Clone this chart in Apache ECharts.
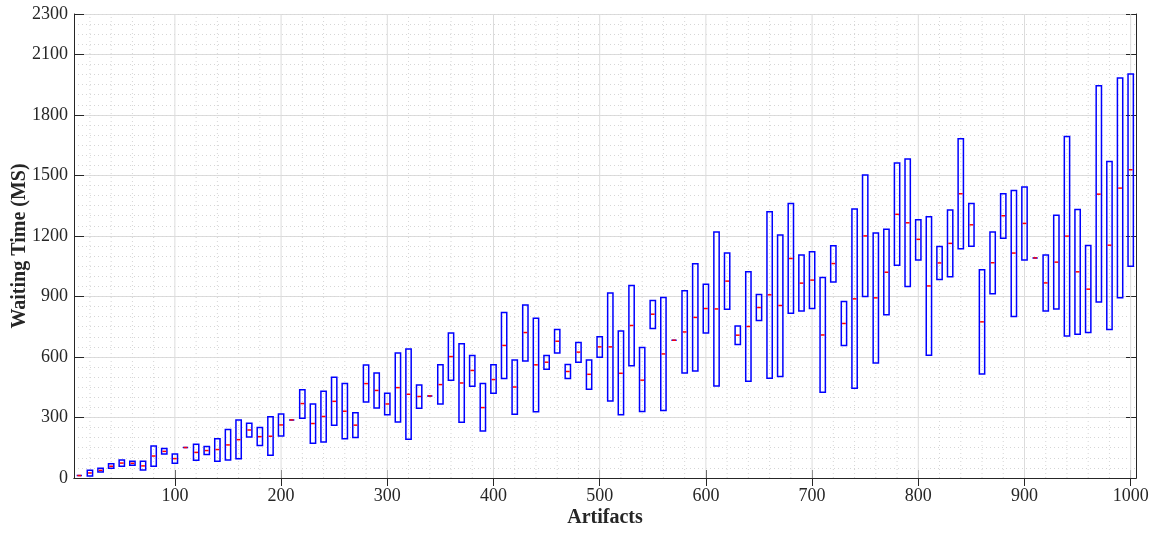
<!DOCTYPE html>
<html>
<head>
<meta charset="utf-8">
<title>Waiting Time</title>
<script src="https://cdn.jsdelivr.net/npm/echarts@6/dist/echarts.min.js"></script>
<style>
    html, body { margin: 0; padding: 0; background: #fff; }
    #main { width: 1162px; height: 533px; }
</style>
</head>
<body>
<div id="main"></div>
<script>
// artifacts on the x axis
var artifacts = [10, 20, 30, 40, 50, 60, 70, 80, 90, 100,
    110, 120, 130, 140, 150, 160, 170, 180, 190, 200,
    210, 220, 230, 240, 250, 260, 270, 280, 290, 300,
    310, 320, 330, 340, 350, 360, 370, 380, 390, 400,
    410, 420, 430, 440, 450, 460, 470, 480, 490, 500,
    510, 520, 530, 540, 550, 560, 570, 580, 590, 600,
    610, 620, 630, 640, 650, 660, 670, 680, 690, 700,
    710, 720, 730, 740, 750, 760, 770, 780, 790, 800,
    810, 820, 830, 840, 850, 860, 870, 880, 890, 900,
    910, 920, 930, 940, 950, 960, 970, 980, 990, 1000];

// lower edge of each box
var boxLow = [12, 10, 30, 48, 58, 63, 40, 58, 119, 73,
    151, 88, 116, 83, 89, 96, 203, 161, 113, 208,
    288, 296, 172, 179, 261, 194, 201, 377, 347, 314,
    278, 192, 346, 407, 367, 485, 276, 455, 233, 420,
    493, 316, 580, 329, 539, 620, 493, 574, 440, 599,
    382, 314, 556, 330, 741, 335, 683, 521, 531, 719,
    456, 837, 662, 480, 781, 495, 503, 817, 828, 840,
    425, 972, 657, 445, 900, 570, 809, 1054, 949, 1081,
    609, 984, 997, 1136, 1149, 516, 913, 1189, 800, 1080,
    1091, 828, 838, 704, 713, 721, 873, 736, 893, 1050];

// median of each box
var boxMedian = [12, 25, 38, 58, 74, 73, 60, 109, 132, 96,
    151, 127, 136, 141, 164, 190, 238, 205, 207, 263,
    288, 369, 270, 305, 380, 331, 262, 468, 434, 367,
    448, 415, 404, 407, 463, 602, 471, 533, 349, 488,
    657, 451, 721, 561, 574, 678, 528, 624, 514, 650,
    650, 519, 756, 485, 812, 615, 683, 724, 796, 840,
    838, 976, 708, 751, 845, 908, 855, 1088, 966, 981,
    709, 1063, 766, 888, 1200, 893, 1020, 1307, 1265, 1183,
    952, 1066, 1163, 1409, 1255, 774, 1067, 1300, 1115, 1262,
    1091, 967, 1070, 1199, 1022, 936, 1407, 1154, 1437, 1528];

// upper edge of each box
var boxHigh = [12, 38, 48, 71, 89, 83, 83, 159, 146, 119,
    151, 167, 156, 195, 240, 288, 271, 250, 303, 317,
    288, 438, 367, 430, 500, 468, 323, 560, 521, 420,
    620, 640, 461, 407, 561, 719, 665, 607, 468, 561,
    820, 585, 858, 792, 607, 736, 562, 672, 585, 700,
    917, 729, 954, 647, 880, 895, 683, 928, 1062, 961,
    1220, 1115, 754, 1022, 910, 1320, 1205, 1361, 1105, 1121,
    994, 1151, 875, 1333, 1502, 1215, 1233, 1561, 1581, 1280,
    1295, 1148, 1329, 1682, 1361, 1032, 1219, 1409, 1425, 1442,
    1091, 1106, 1303, 1693, 1331, 1153, 1944, 1569, 1983, 2002];

// tick labels
var xTicks = [100, 200, 300, 400, 500, 600, 700, 800, 900, 1000];
var yTicks = [0, 300, 600, 900, 1200, 1500, 1800, 2100, 2300];

var myChart = echarts.init(document.getElementById('main'));

var boxData = [];
for (var i = 0; i < artifacts.length; i++) {
    boxData.push([artifacts[i], boxLow[i], boxMedian[i], boxHigh[i]]);
}

// vertical grid lines: solid at labelled ticks, dotted every 20
var gridData = [];
for (var g = 20; g <= 1000; g += 20) {
    gridData.push([g, xTicks.indexOf(g) >= 0 ? 1 : 0]);
}

var font = 'Liberation Serif';
var dark = '#262626';
var plain = function (v) { return String(v); };

var option = {
    animation: false,
    grid: { left: 74, right: 26, top: 14, bottom: 55, outerBoundsMode: 'none', containLabel: false },
    xAxis: [
        {
            type: 'value', min: 5, max: 1005, position: 'bottom',
            name: 'Artifacts', nameLocation: 'middle', nameGap: 30, nameMoveOverlap: false,
            nameTextStyle: { fontFamily: font, fontSize: 20, fontWeight: 'bold', color: dark },
            axisLine: { show: true, lineStyle: { color: dark, width: 1 } },
            axisTick: { show: true, inside: true, length: 8, customValues: xTicks, lineStyle: { color: dark } },
            axisLabel: { customValues: xTicks, formatter: plain, margin: 9, fontFamily: font, fontSize: 18, color: dark },
            splitLine: { show: false }
        },
        {
            type: 'value', min: 5, max: 1005, position: 'top',
            axisLine: { show: true, lineStyle: { color: dark, width: 1 } },
            axisTick: { show: true, inside: true, length: 8, customValues: xTicks, lineStyle: { color: dark } },
            axisLabel: { show: false },
            splitLine: { show: false }
        }
    ],
    yAxis: [
        {
            type: 'value', min: 0, max: 2300, interval: 300, position: 'left',
            name: 'Waiting Time (MS)', nameLocation: 'middle', nameGap: 44, nameMoveOverlap: false,
            nameTextStyle: { fontFamily: font, fontSize: 20, fontWeight: 'bold', color: dark },
            axisLine: { show: true, lineStyle: { color: dark, width: 1 } },
            axisTick: { show: true, inside: true, length: 10, lineStyle: { color: dark } },
            axisLabel: { formatter: plain, margin: 6, fontFamily: font, fontSize: 18, color: dark },
            splitLine: { show: true, lineStyle: { color: '#dcdcdc', width: 1 } }
        },
        {
            type: 'value', min: 0, max: 2300, interval: 300, position: 'right',
            axisLine: { show: true, lineStyle: { color: dark, width: 1 } },
            axisTick: { show: true, inside: true, length: 10, lineStyle: { color: dark } },
            axisLabel: { show: false },
            splitLine: { show: false }
        },
        {
            type: 'value', min: 0, max: 2300, interval: 50, position: 'left',
            axisLine: { show: false }, axisTick: { show: false }, axisLabel: { show: false },
            splitLine: { show: true, lineStyle: { color: '#d6d6d6', width: 1, type: [1, 3] } }
        }
    ],
    series: [
        {
            name: 'grid',
            type: 'custom',
            silent: true,
            z: 1,
            data: gridData,
            encode: { x: 0 },
            renderItem: function (params, api) {
                var x = api.value(0);
                var p0 = api.coord([x, 0]);
                var p1 = api.coord([x, 2300]);
                var major = api.value(1) === 1;
                return {
                    type: 'line',
                    shape: { x1: p0[0], y1: p0[1], x2: p1[0], y2: p1[1] },
                    style: major
                        ? { stroke: '#dcdcdc', lineWidth: 1 }
                        : { stroke: '#d6d6d6', lineWidth: 1, lineDash: [1, 3] }
                };
            }
        },
        {
            name: 'waiting',
            type: 'custom',
            z: 5,
            data: boxData,
            encode: { x: 0, y: [1, 2, 3] },
            renderItem: function (params, api) {
                var x = api.value(0);
                var lo = api.coord([x, api.value(1)]);
                var mid = api.coord([x, api.value(2)]);
                var hi = api.coord([x, api.value(3)]);
                var w = api.size([5, 0])[0];
                return {
                    type: 'group',
                    children: [
                        {
                            type: 'rect',
                            shape: { x: lo[0] - w / 2, y: hi[1], width: w, height: lo[1] - hi[1] },
                            style: { fill: 'none', stroke: '#0000ff', lineWidth: 1.5 }
                        },
                        {
                            type: 'line',
                            shape: { x1: lo[0] - w / 2 + 0.8, y1: mid[1], x2: lo[0] + w / 2 - 0.8, y2: mid[1] },
                            style: { stroke: '#ff0000', lineWidth: 1.5 }
                        }
                    ]
                };
            }
        }
    ]
};

myChart.setOption(option);
</script>
</body>
</html>
